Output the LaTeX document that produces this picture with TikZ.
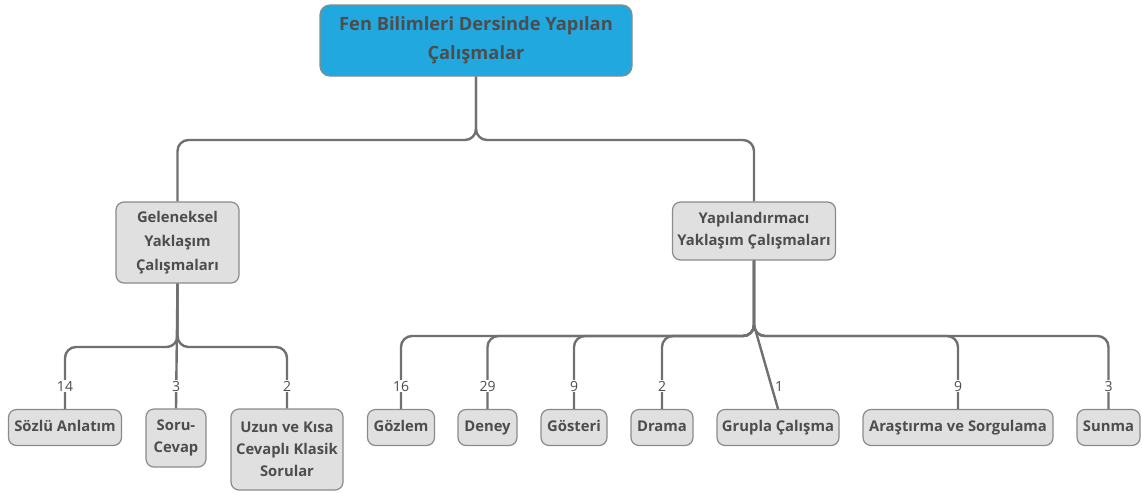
\documentclass[tikz,border=0pt]{standalone}
\usepackage{fontspec}
\setmainfont{Open Sans}
\definecolor{rootblue}{HTML}{20A8DF}
\definecolor{boxgray}{HTML}{E0E0E0}
\definecolor{edgegray}{HTML}{8A8A8A}
\definecolor{linegray}{HTML}{707070}
\definecolor{txtgray}{HTML}{4D4D4D}
\begin{document}
\begin{tikzpicture}[x=1pt,y=-1pt,
  box/.style={draw=edgegray,line width=1.2pt,fill=boxgray,rounded corners=8pt,
    align=center,inner sep=0pt,text=txtgray,font=\fontsize{14.8}{22}\selectfont\bfseries},
  leaf/.style={box,minimum height=36,text height=10.8pt,text depth=3.6pt},
  rootbox/.style={box,fill=rootblue,rounded corners=10pt,font=\fontsize{18.3}{29}\selectfont\bfseries},
  conn/.style={draw=linegray,line width=2.4pt,rounded corners=11pt},
  lbl/.style={fill=white,inner sep=1pt,text=txtgray,font=\fontsize{14}{15}\selectfont}]
\useasboundingbox (0,0) rectangle (1142,493);
% nodes
\node[rootbox,minimum width=312,minimum height=71] (root) at (476,40.5) {Fen Bilimleri Dersinde Yapılan\\Çalışmalar};
\node[box,minimum width=123,minimum height=81,font=\fontsize{14.8}{24}\selectfont\bfseries] (gel) at (177.5,242.5) {Geleneksel\\Yaklaşım\\Çalışmaları};
\node[box,minimum width=163,minimum height=58] (yap) at (754,231) {Yapılandırmacı\\Yaklaşım Çalışmaları};
\node[leaf,minimum width=113] (soz) at (65,427.5) {Sözlü Anlatım};
\node[box,minimum width=60,minimum height=58] (soru) at (176,438) {Soru-\\Cevap};
\node[box,minimum width=112,minimum height=81] (uzun) at (287,449.5) {Uzun ve Kısa\\Cevaplı Klasik\\Sorular};
\node[leaf,minimum width=67] (goz) at (401,427.5) {Gözlem};
\node[leaf,minimum width=59] (deney) at (487.5,427.5) {Deney};
\node[leaf,minimum width=66] (gost) at (574,427.5) {Gösteri};
\node[leaf,minimum width=62] (drama) at (662,427.5) {Drama};
\node[leaf,minimum width=122] (grup) at (778,427.5) {Grupla Çalışma};
\node[leaf,minimum width=190] (aras) at (958,427.5) {Araştırma ve Sorgulama};
\node[leaf,minimum width=63] (sunma) at (1108.5,427.5) {Sunma};
% junctions
\coordinate (j0) at (476,140);
\coordinate (j1) at (177.5,347);
\coordinate (j2) at (754,336);
\coordinate (j2t) at (754,325);
% connectors
\draw[conn] (root.south) -- (j0) -| (gel.north);
\draw[conn] (root.south) -- (j0) -| (yap.north);
\draw[conn] (gel.south) -- (j1) -| (soz.north);
\draw[conn] (gel.south) -- (soru.north);
\draw[conn] (gel.south) -- (j1) -| (uzun.north);
\draw[conn] (yap.south) -- (j2) -| (goz.north);
\draw[conn] (yap.south) -- (j2) -| (deney.north);
\draw[conn] (yap.south) -- (j2) -| (gost.north);
\draw[conn] (yap.south) -- (j2) -| (drama.north);
\draw[conn] (yap.south) -- (j2) -| (aras.north);
\draw[conn] (yap.south) -- (j2) -| (sunma.north);
\draw[draw=linegray,line width=2.4pt] (yap.south) -- (j2t) -- (grup.north);
% labels
\node[lbl] (l1) at (65,386) {14};
\node[lbl] (l2) at (176,386) {3};
\node[lbl] (l3) at (287,386) {2};
\node[lbl] (l4) at (401,386) {16};
\node[lbl] (l5) at (487.5,386) {29};
\node[lbl] (l6) at (574,386) {9};
\node[lbl] (l7) at (662,386) {2};
\node[lbl,fill=none] (l8) at (779,386) {1};
\node[lbl] (l9) at (958,386) {9};
\node[lbl] (l10) at (1108.5,386) {3};
\end{tikzpicture}
\end{document}
